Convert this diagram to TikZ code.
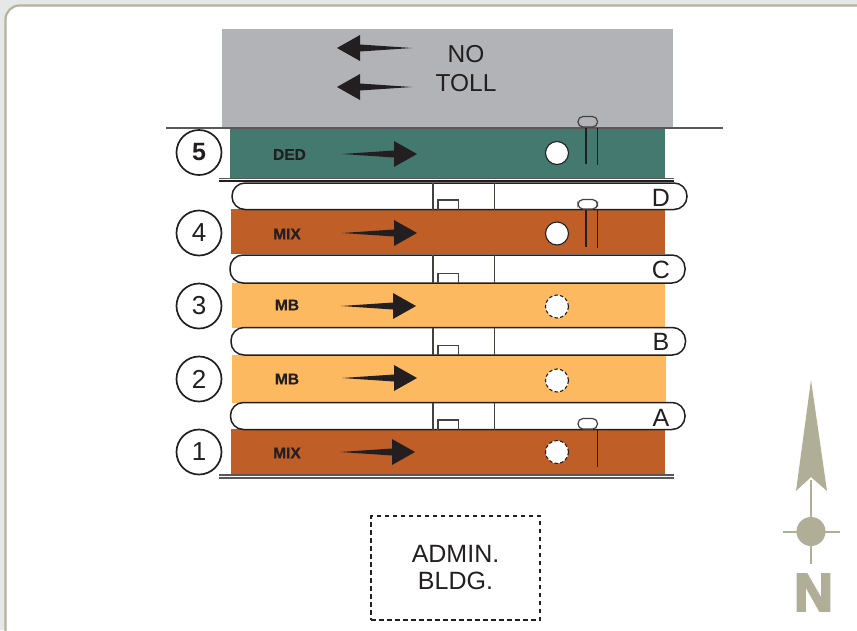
\documentclass[tikz,border=0pt]{standalone}
\usepackage{fontspec}
\setmainfont{Liberation Sans}
\newfontfamily\heavyfont[FakeBold=4.5]{Liberation Sans Bold}
\newfontfamily\labelfont[FakeBold=0.6]{Liberation Sans Bold}
\definecolor{bggray}{HTML}{E6E7E8}
\definecolor{frame}{HTML}{B5B29F}
\definecolor{tollgray}{HTML}{B1B3B6}
\definecolor{dedgreen}{HTML}{447970}
\definecolor{mixbrown}{HTML}{BF5F27}
\definecolor{mblight}{HTML}{FDB95F}
\definecolor{ink}{HTML}{231F20}
\definecolor{northc}{HTML}{B1AE98}
\tikzset{
  x=1pt,y=-1pt,
  booth/.style={draw=ink,line width=1.5pt,fill=white,rounded corners=13pt},
  thin line/.style={draw=ink!85,line width=1.3pt},
  loop line/.style={draw=ink,line width=1.6pt},
  rule/.style={draw=ink!75,line width=1.2pt},
  numc/.style={circle,draw=ink,line width=1.7pt,fill=white,minimum size=45pt,inner sep=0pt,font=\fontsize{26}{26}\selectfont,text=ink},
  lanetxt/.style={font=\labelfont\fontsize{15.5}{15.5}\selectfont,text=ink,inner sep=0pt},
  bigtxt/.style={font=\fontsize{24.5}{28.5}\selectfont,text=ink,inner sep=0pt,align=center},
  letter/.style={font=\fontsize{25}{25}\selectfont,text=ink,inner sep=0pt},
  solidc/.style={circle,fill=white,draw=ink,line width=1.1pt,minimum size=23pt,inner sep=0pt},
  dashc/.style={solidc,dash pattern=on 3.5pt off 2.2pt},
  pill/.style={draw=ink!85,line width=1.2pt,fill=white,rounded corners=5pt},
  pillg/.style={draw=ink!85,line width=1.2pt,rounded corners=5pt},
}
\newcommand{\rarrow}[2]{\fill[ink] (#1,#2) -- (#1+52,#2-3.5) -- (#1+52,#2-13) -- (#1+75,#2) -- (#1+52,#2+13) -- (#1+52,#2+3.5) -- cycle;}
\newcommand{\larrow}[2]{\fill[ink] (#1,#2) -- (#1-52,#2-3.5) -- (#1-52,#2-13) -- (#1-75,#2) -- (#1-52,#2+13) -- (#1-52,#2+3.5) -- cycle;}
\newcommand{\boothbar}[4]{% left, right, top, bottom
  \draw[booth] (#1,#3) rectangle (#2,#4);
  \draw[thin line] (433,#3) -- (433,#4);
  \draw[thin line] (494.5,#3) -- (494.5,#4);
  \draw[thin line] (438,#4) -- (438,#4-9.5) -- (458.5,#4-9.5) -- (458.5,#4);
}
\begin{document}
\begin{tikzpicture}
\useasboundingbox (0,0) rectangle (857,630);
\fill[bggray] (0,0) rectangle (857,630);
\draw[frame,line width=2.2pt,fill=white,rounded corners=14pt] (5.5,5.5) rectangle (880,650);
% toll plaza
\fill[tollgray] (222,29) rectangle (673,128);
\larrow{412}{48}
\larrow{412}{87}
\node[bigtxt] (notoll) at (466,68.5) {NO\\TOLL};
% lanes
\fill[dedgreen] (230,128) rectangle (665,179);
\fill[mixbrown] (231,209) rectangle (665,254);
\fill[mblight] (232,283) rectangle (665,328);
\fill[mblight] (232,355) rectangle (666,403);
\fill[mixbrown] (231,429) rectangle (665,475);
% rules
\draw[rule] (166,128) -- (723,128);
\draw[rule] (219,178.5) -- (674,178.5);
\draw[rule] (219,475) -- (674,475);
\draw[rule,line width=1.6pt] (219,478) -- (674,478);
% booths
\boothbar{232}{687}{183}{209.5}
\boothbar{230}{685}{255}{283}
\boothbar{231}{685.5}{327.5}{355}
\boothbar{230.5}{685}{402.5}{429.5}
\draw[ink,line width=1.4pt] (219,180.8) -- (674,180.8);
\node[letter] (ld) at (661,198) {D};
\node[letter] (lc) at (661,270) {C};
\node[letter] (lb) at (661,342) {B};
\node[letter] (la) at (661,417.5) {A};
% lane labels
\node[lanetxt] (t5) at (289.5,154.5) {DED};
\node[lanetxt] (t4) at (287,234) {MIX};
\node[lanetxt] (t3) at (287,305) {MB};
\node[lanetxt] (t2) at (287,379) {MB};
\node[lanetxt] (t1) at (287,453) {MIX};
% lane arrows
\rarrow{342}{154}
\rarrow{342}{233}
\rarrow{341}{306}
\rarrow{342}{378}
\rarrow{340}{452}
% circles
\node[numc,font=\bfseries\fontsize{25}{25}\selectfont] (n5) at (199,152.5) {5};
\node[numc] (n4) at (199,233) {4};
\node[numc] (n3) at (199,306) {3};
\node[numc] (n2) at (199,379) {2};
\node[numc] (n1) at (199,452) {1};
% dots
\node[solidc] (d5) at (557,153) {};
\node[solidc] (d4) at (557,233.5) {};
\node[dashc] (d3) at (557,306.5) {};
\node[dashc] (d2) at (557,380.5) {};
\node[dashc] (d1) at (557,452) {};
% detectors
\draw[pillg] (578,116.5) rectangle (597.5,127);
\draw[loop line] (586,128) -- (586,164);
\draw[loop line] (597.5,128) -- (597.5,164.5);
\draw[pill] (578,199.5) rectangle (597.5,209);
\draw[loop line] (586,210) -- (586,247);
\draw[loop line] (597.5,210) -- (597.5,247.5);
\draw[pill] (578,418.5) rectangle (597.5,429);
\draw[loop line] (597.5,430) -- (597.5,467);
% admin
\node[draw=ink,line width=1.7pt,dash pattern=on 4.5pt off 3.5pt,minimum width=169pt,minimum height=104pt,inner sep=0pt,bigtxt,font=\fontsize{25}{27}\selectfont] (admin) at (455.5,568) {ADMIN.\\BLDG.};
% north arrow
\fill[northc] (811,380) -- (827,491) -- (811,477) -- (796,491) -- cycle;
\draw[northc,line width=2pt] (811,480) -- (811,564);
\draw[northc,line width=2pt] (783,531.5) -- (840,531.5);
\fill[northc] (811,531.5) circle (14.5);
\node[inner sep=0pt,text=northc,font=\heavyfont\fontsize{53}{53}\selectfont] (north) at (813.5,592.5) {N};
\end{tikzpicture}
\end{document}
